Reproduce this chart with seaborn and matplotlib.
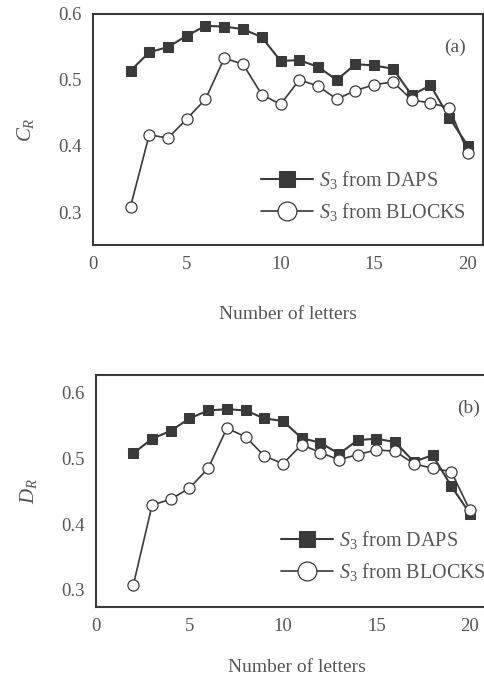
import numpy as np
import pandas as pd
import seaborn as sns
import matplotlib
matplotlib.use("Agg")
import matplotlib.pyplot as plt
from matplotlib.ticker import MultipleLocator

letters = list(range(2, 21))
cr_daps = [0.514, 0.542, 0.550, 0.567, 0.582, 0.581, 0.577, 0.565, 0.529, 0.530,
           0.520, 0.500, 0.524, 0.522, 0.517, 0.477, 0.492, 0.443, 0.400]
cr_blocks = [0.308, 0.417, 0.412, 0.441, 0.471, 0.533, 0.524, 0.478, 0.463, 0.500,
             0.491, 0.471, 0.484, 0.493, 0.497, 0.470, 0.465, 0.458, 0.389]
dr_daps = [0.508, 0.530, 0.542, 0.561, 0.573, 0.575, 0.573, 0.561, 0.557, 0.531,
           0.524, 0.507, 0.528, 0.530, 0.525, 0.495, 0.505, 0.458, 0.416]
dr_blocks = [0.308, 0.429, 0.438, 0.455, 0.485, 0.546, 0.533, 0.504, 0.492, 0.521,
             0.509, 0.498, 0.506, 0.513, 0.511, 0.492, 0.485, 0.480, 0.421]
series_names = [r"$S_{\mathit{3}}$ from DAPS", r"$S_{\mathit{3}}$ from BLOCKS"]
xticks = [0, 5, 10, 15, 20]
yticks = [0.3, 0.4, 0.5, 0.6]

sns.set_theme(style="white")
plt.rcParams['font.family'] = ['Liberation Serif', 'DejaVu Serif']
plt.rcParams['mathtext.fontset'] = 'custom'
plt.rcParams['mathtext.it'] = 'Liberation Serif:italic'
plt.rcParams['mathtext.rm'] = 'Liberation Serif'

LC = "#3a3a3a"
TC = "#555555"

fig = plt.figure(figsize=(4.85, 6.8), dpi=100)
ax1 = fig.add_axes([93/485, 1-245/680, (483-93)/485, (245-14)/680])
ax2 = fig.add_axes([96/485, 1-607/680, (498-96)/485, (607-375)/680])

def draw(ax, daps, blocks, ylab, tag, ylim, xlim, legpos, xpad):
    df = pd.DataFrame({"x": letters, "daps": daps, "blocks": blocks})
    sns.lineplot(data=df, x="x", y="daps", ax=ax, color=LC, lw=1.5,
                 marker="s", markersize=6.5, markerfacecolor=LC,
                 markeredgecolor=LC, label=series_names[0])
    sns.lineplot(data=df, x="x", y="blocks", ax=ax, color=LC, lw=1.2,
                 marker="o", markersize=8, markerfacecolor="white",
                 markeredgecolor=LC, markeredgewidth=0.9, label=series_names[1])
    ax.set_xlim(*xlim)
    ax.set_ylim(*ylim)
    ax.set_xticks(xticks)
    ax.set_yticks(yticks)
    ax.xaxis.set_minor_locator(MultipleLocator(2.5))
    ax.yaxis.set_minor_locator(MultipleLocator(0.05))
    ax.tick_params(which="both", direction="in", colors=LC, labelcolor=TC,
                   labelsize=13.5, top=False, right=False)
    ax.tick_params(which="major", length=4, width=1.0, pad=8)
    ax.tick_params(which="minor", length=2.5, width=0.8)
    ax.set_xticklabels([str(t) for t in xticks])
    ax.set_yticklabels([f"{t:.1f}" for t in yticks])
    for s in ax.spines.values():
        s.set_color(LC)
        s.set_linewidth(1.5)
    ax.set_xlabel("Number of letters", fontsize=14, color=TC, labelpad=xpad)
    ax.set_ylabel(ylab, fontsize=15, color=TC, labelpad=16)
    ax.text(0.955, 0.855, tag, transform=ax.transAxes, ha="right", va="center",
            fontsize=14, color=TC)
    leg = ax.legend(loc="lower left", bbox_to_anchor=legpos, frameon=False,
                    fontsize=14.5, markerscale=1.7, handlelength=2.6,
                    handletextpad=0.3, labelspacing=0.5, borderaxespad=0)
    for t in leg.get_texts():
        t.set_color(TC)

draw(ax1, cr_daps, cr_blocks, r"$C_R$", "(a)", (0.25, 0.6), (0, 20.8), (0.41, 0.06), 24)
draw(ax2, dr_daps, dr_blocks, r"$D_R$", "(b)", (0.274, 0.627), (0, 21.5), (0.44, 0.07), 17)

fig.savefig("out.png", dpi=100, facecolor="white")
